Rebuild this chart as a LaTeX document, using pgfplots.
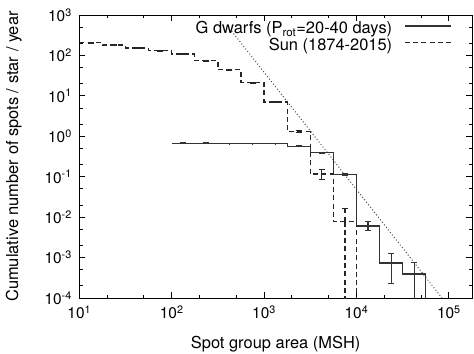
\documentclass[border=0pt]{standalone}
\usepackage{fontspec}
\setmainfont{TeX Gyre Heros}
\usepackage{pgfplots}
\usepackage{pgfplotstable}
\pgfplotsset{compat=1.18}
\newcommand{\tp}[1]{10\textsuperscript{#1}}

% Sun (1874-2015): bin left edges and values (const plot)
\pgfplotstableread{
x y
10 206.5
17.78 180.7
31.62 152
56.23 130.6
100 108
177.8 74
316.2 44.5
562.3 21.3
1000 7.0
1778 1.29
3162 0.116
5623 0.0078
10000 1e-7
300000 1e-7
}\sun

% G dwarfs
\pgfplotstableread{
x y
100 0.67
177.8 0.67
316.2 0.66
562.3 0.66
1000 0.66
1778 0.57
3162 0.39
5623 0.113
10000 0.0060
17783 0.00074
31623 0.00039
56234 1e-7
300000 1e-7
}\gdw

% error bars at bin centres
\pgfplotstableread{
x y ep em
13.34 206.5 4 4
23.71 180.7 3.5 3.5
42.17 152 3 3
74.99 130.6 2.6 2.6
133.4 108 2.2 2.2
237.1 74 1.5 1.5
421.7 44.5 1.0 1.0
749.9 21.3 0.6 0.6
1333.5 7.0 0.3 0.3
2371 1.29 0.08 0.08
4217 0.116 0.039 0.029
7499 0.0078 0.0082 0.007799
}\sunerr

\pgfplotstableread{
x y ep em
133.4 0.67 0.013 0.013
237.1 0.67 0.013 0.013
421.7 0.66 0.013 0.013
749.9 0.66 0.013 0.013
1333.5 0.66 0.013 0.013
2371 0.57 0.015 0.015
4217 0.39 0.015 0.015
7499 0.113 0.006 0.006
13335 0.0060 0.0019 0.0014
23714 0.00074 0.00052 0.00051
42170 0.00039 0.00035 0.000389
}\gdwerr

\begin{document}
\begin{tikzpicture}
\begin{axis}[
  at={(0,0)}, anchor=south west,
  scale only axis, width=392.7bp, height=283bp,
  xmode=log, ymode=log,
  xmin=10, xmax=1.78e5, ymin=1e-4, ymax=1e3,
  axis line style={line width=1bp, black},
  tick align=inside,
  major tick length=6bp, minor tick length=3.5bp,
  every tick/.style={line width=0.8bp, black},
  xtick={10,100,1000,10000,100000},
  xticklabels={\tp{1},\tp{2},\tp{3},\tp{4},\tp{5}},
  minor xtick={20,50,200,500,2000,5000,20000,50000},
  ytick={1e-4,1e-3,1e-2,1e-1,1,10,100,1000},
  yticklabels={\tp{-4},\tp{-3},\tp{-2},\tp{-1},\tp{0},\tp{1},\tp{2},\tp{3}},
  minor ytick={2e-4,5e-4,2e-3,5e-3,2e-2,5e-2,0.2,0.5,2,5,20,50,200,500},
  ticklabel style={font=\fontsize{15.5}{18}\selectfont},
  xticklabel style={yshift=-4bp},
  yticklabel style={xshift=-4bp},
  xlabel={Spot group area (MSH)},
  ylabel={Cumulative number of spots / star / year},
  label style={font=\fontsize{16.5}{19}\selectfont},
  xlabel style={at={(axis description cs:0.5,0)}, anchor=base, yshift=-50.3bp},
  ylabel style={at={(axis description cs:-0.1961,0.5)}, anchor=north, rotate=0},
  legend plot pos=right,
  legend cell align=right,
  legend image code/.code={\draw[#1] (0bp,0.32em) -- (46bp,0.32em);},
  legend style={at={(axis description cs:0.9483,0.976)}, anchor=north east,
    draw=none, fill=none, inner sep=0pt, row sep=2bp, column sep=12bp,
    font=\fontsize{16.5}{19}\selectfont,
    nodes={inner sep=0pt, text height=12bp, text depth=2.5bp}},
]
\addplot[forget plot, black!70, line width=1bp, dash pattern=on 1bp off 2.2bp]
  coordinates {(445,402) (84300,1e-4)};
\addplot[black!80, line width=1.3bp, const plot] table[x=x,y=y] {\gdw};
\addlegendentry{G dwarfs (P\textsubscript{rot}=20-40 days)}
\addplot[black!85, line width=1.3bp, const plot, dash pattern=on 5bp off 3.3bp] table[x=x,y=y] {\sun};
\addlegendentry{Sun (1874-2015)}
\addplot[forget plot, draw=none, mark=none,
  error bars/.cd, y dir=both, y explicit, error mark=-,
  error bar style={draw=black!80, line width=1.2bp},
  error mark options={rotate=90, mark size=3bp, line width=1bp, draw=black!80}]
  table[x=x, y=y, y error plus=ep, y error minus=em] {\gdwerr};
\addplot[forget plot, draw=none, mark=none,
  error bars/.cd, y dir=both, y explicit, error mark=-,
  error bar style={draw=black!85, line width=1.2bp, dash pattern=on 5bp off 3.3bp},
  error mark options={rotate=90, mark size=3bp, line width=1bp, draw=black!85, solid}]
  table[x=x, y=y, y error plus=ep, y error minus=em] {\sunerr};
\end{axis}
\pgfresetboundingbox
\useasboundingbox (-79.3bp,-56bp) rectangle (394.7bp,298bp);
\end{tikzpicture}
\end{document}
